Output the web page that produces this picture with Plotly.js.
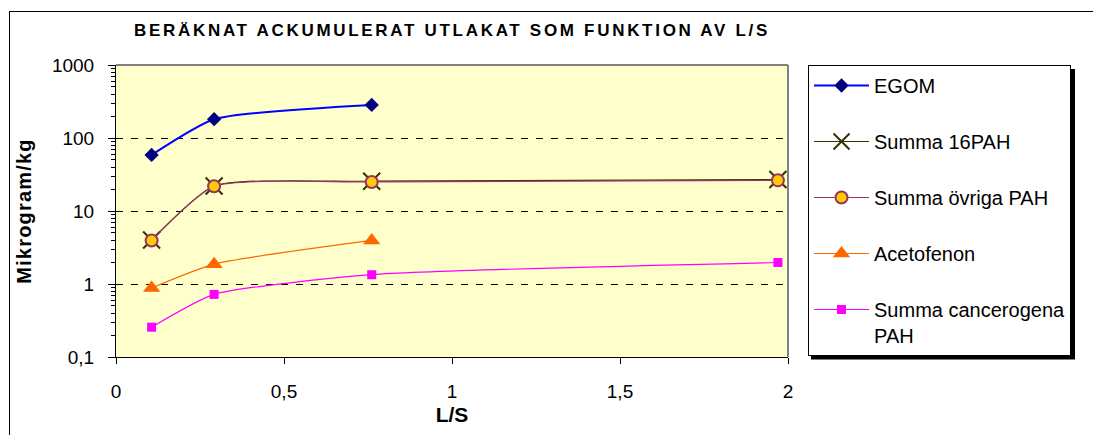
<!DOCTYPE html>
<html>
<head>
<meta charset="utf-8">
<script src="https://cdn.plot.ly/plotly-3.0.1.min.js"></script>
<style>
  body { margin: 0; background: #fff; }
  #wrap { position: relative; width: 1093px; height: 435px; overflow: hidden; }
  #chart { position: absolute; left: 0; top: 0; width: 1093px; height: 435px; }
  #frame { position: absolute; left: 9px; top: 11px; width: 1200px; height: 600px; border: 1px solid #000; pointer-events: none; }
  #chart .gtitle { letter-spacing: 2.7px; }
  #chart .ytitle { letter-spacing: 1.2px; }
</style>
</head>
<body>
<div id="wrap">
  <div id="chart"></div>
  <div id="frame"></div>
</div>
<script>
// L/S values
const lsShort = [0.106, 0.292, 0.761];
const lsLong = [0.106, 0.292, 0.761, 1.97];

// Series (Mikrogram/kg)
const egom = [58.7, 181, 284];
const summa16PAH = [4.0, 22.0, 25.6, 27.0];
const summaOvrigaPAH = [3.95, 21.8, 25.0, 26.3];
const acetofenon = [0.88, 1.87, 3.95];
const summaCancerogenaPAH = [0.256, 0.72, 1.34, 1.97];

// Tick labels
const xTickVals = [0, 0.5, 1, 1.5, 2];
const xTickText = ['0', '0,5', '1', '1,5', '2'];
const yTickVals = [0.1, 1, 10, 100, 1000];
const yTickText = ['0,1', '1', '10', '100', '1000'];

// minor log ticks (2..9 within each decade)
const yMinorVals = [];
[0.1, 1, 10, 100].forEach(d => { for (let k = 2; k <= 9; k++) yMinorVals.push(d * k); });

const FONT = 'Liberation Sans, Arial, sans-serif';
const SM = 0.55;

const traces = [
  {
    x: lsShort, y: egom, name: 'EGOM', type: 'scatter', mode: 'lines+markers',
    legendgroup: 'g1',
    line: { color: '#0000FF', width: 2, shape: 'spline', smoothing: SM },
    marker: { symbol: 'diamond', size: 11, color: '#000080' }
  },
  {
    x: lsLong, y: summa16PAH, name: 'Summa 16PAH', type: 'scatter', mode: 'lines+markers',
    legendgroup: 'g2',
    line: { color: '#333300', width: 1.2, shape: 'spline', smoothing: SM },
    marker: { symbol: 'x-thin', size: 17, color: '#333300', line: { color: '#333300', width: 2 } }
  },
  {
    x: lsLong, y: summaOvrigaPAH, name: 'Summa övriga PAH', type: 'scatter', mode: 'lines+markers',
    legendgroup: 'g3',
    line: { color: '#993366', width: 1.2, shape: 'spline', smoothing: SM },
    marker: { symbol: 'circle', size: 12, color: '#FFCC00', line: { color: '#993366', width: 2 } }
  },
  {
    x: lsShort, y: acetofenon, name: 'Acetofenon', type: 'scatter', mode: 'lines+markers',
    legendgroup: 'g4',
    line: { color: '#FF6600', width: 1.2, shape: 'spline', smoothing: SM },
    marker: { symbol: 'triangle-up', size: 15, color: '#FF6600' }
  },
  {
    x: lsLong, y: summaCancerogenaPAH, name: 'Summa cancerogena<br>PAH', type: 'scatter', mode: 'lines+markers',
    legendgroup: 'g5',
    line: { color: '#FF00FF', width: 1.2, shape: 'spline', smoothing: SM },
    marker: { symbol: 'square', size: 9, color: '#FF00FF' }
  }
];

const layout = {
  width: 1093, height: 435,
  margin: { l: 116, r: 305, t: 65, b: 78 },
  paper_bgcolor: '#FFFFFF',
  plot_bgcolor: '#FFFFCC',
  font: { family: FONT, color: '#000000' },
  title: {
    text: '<b>BERÄKNAT ACKUMULERAT UTLAKAT SOM FUNKTION AV L/S</b>',
    font: { family: FONT, size: 17, color: '#000' },
    x: 0.5, xref: 'paper', xanchor: 'center',
    y: 0.931, yref: 'container', yanchor: 'middle'
  },
  xaxis: {
    range: [0, 2],
    tickmode: 'array', tickvals: xTickVals, ticktext: xTickText,
    ticks: 'outside', ticklen: 6, tickcolor: '#000', tickwidth: 1,
    ticklabelstandoff: 11,
    tickfont: { family: FONT, size: 19, color: '#000' },
    showline: true, linecolor: '#000', linewidth: 1,
    showgrid: false, zeroline: false,
    title: { text: '<b>L/S</b>', font: { family: FONT, size: 21, color: '#000' }, standoff: 6 }
  },
  yaxis: {
    type: 'log', range: [-1, 3],
    tickmode: 'array', tickvals: yTickVals, ticktext: yTickText,
    ticks: 'outside', ticklen: 7, tickcolor: '#000', tickwidth: 1,
    ticklabelstandoff: 10,
    tickfont: { family: FONT, size: 19, color: '#000' },
    showline: true, linecolor: '#000', linewidth: 1,
    showgrid: true, gridcolor: '#000', gridwidth: 1, griddash: '7px,8px',
    zeroline: false,
    minor: { tickmode: 'array', tickvals: yMinorVals, ticks: 'outside', ticklen: 4, tickcolor: '#000', showgrid: false },
    title: { text: '<b>Mikrogram/kg</b>', font: { family: FONT, size: 20, color: '#000' }, standoff: 14 }
  },
  showlegend: true,
  legend: {
    x: 1.0298, xanchor: 'left', xref: 'paper',
    y: 1.0, yanchor: 'top', yref: 'paper',
    bgcolor: '#FFFFFF', bordercolor: '#000', borderwidth: 1,
    font: { family: FONT, size: 20, color: '#000' },
    itemwidth: 55, tracegroupgap: 27, valign: 'top',
    traceorder: 'grouped', maxheight: 420
  },
  shapes: [
    { type: 'line', xref: 'paper', yref: 'paper', x0: 0, x1: 1, y0: 1, y1: 1,
      line: { color: '#808080', width: 2 }, layer: 'above' },
    { type: 'line', xref: 'paper', yref: 'paper', x0: 1, x1: 1, y0: 0, y1: 1,
      line: { color: '#808080', width: 2 }, layer: 'above' },
    // legend drop shadow
    { type: 'rect', xref: 'paper', yref: 'paper', x0: 1.0342, x1: 1.4271, y0: -0.0086, y1: 0.986,
      fillcolor: '#000', line: { width: 0 }, layer: 'above' }
  ]
};

Plotly.newPlot('chart', traces, layout, { displayModeBar: false, staticPlot: true });
</script>
</body>
</html>
